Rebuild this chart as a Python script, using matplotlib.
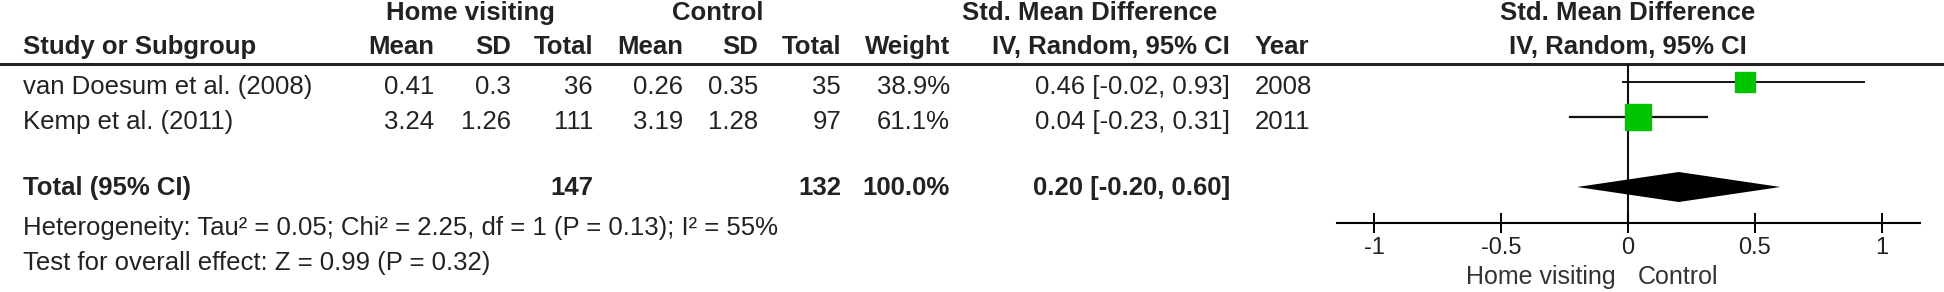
import matplotlib
matplotlib.use("Agg")
import matplotlib.pyplot as plt

plt.rcParams['font.family'] = ['Liberation Sans', 'DejaVu Sans']
plt.rcParams['axes.unicode_minus'] = False

# study data
studies = ["van Doesum et al. (2008)", "Kemp et al. (2011)"]
hv_mean = [0.41, 3.24]
hv_sd = [0.3, 1.26]
hv_n = [36, 111]
c_mean = [0.26, 3.19]
c_sd = [0.35, 1.28]
c_n = [35, 97]
weight = [38.9, 61.1]
smd = [0.46, 0.04]
ci_lo = [-0.02, -0.23]
ci_hi = [0.93, 0.31]
years = [2008, 2011]

# pooled
tot_hv_n = 147
tot_c_n = 132
tot_weight = 100.0
tot_smd = 0.20
tot_lo = -0.20
tot_hi = 0.60
het_text = "Heterogeneity: Tau\u00b2 = 0.05; Chi\u00b2 = 2.25, df = 1 (P = 0.13); I\u00b2 = 55%"
test_text = "Test for overall effect: Z = 0.99 (P = 0.32)"

xticks = [-1, -0.5, 0, 0.5, 1]
xtick_labels = ["-1", "-0.5", "0", "0.5", "1"]

W, H = 1944, 292
fig = plt.figure(figsize=(W / 100, H / 100), dpi=100)
bg = fig.add_axes([0, 0, 1, 1])
bg.set_xlim(0, W)
bg.set_ylim(H, 0)
bg.axis('off')

tc = '#222222'
fs = 18.5

# header rows
y_h1, y_h2, y_line = 13, 47, 64
row_y = [87, 122]
y_tot, y_het, y_test = 188, 228, 263

bg.text(470, y_h1, "Home visiting", ha='center', va='center', fontsize=fs, weight='bold', color=tc)
bg.text(718, y_h1, "Control", ha='center', va='center', fontsize=fs, weight='bold', color=tc)
bg.text(1090, y_h1, "Std. Mean Difference", ha='center', va='center', fontsize=fs, weight='bold', color=tc)
bg.text(1628, y_h1, "Std. Mean Difference", ha='center', va='center', fontsize=fs, weight='bold', color=tc)

cols = [(434, "Mean"), (511, "SD"), (593, "Total"), (683, "Mean"), (758, "SD"),
        (841, "Total"), (950, "Weight"), (1230, "IV, Random, 95% CI")]
bg.text(23, y_h2, "Study or Subgroup", ha='left', va='center', fontsize=fs, weight='bold', color=tc)
for x, lab in cols:
    bg.text(x, y_h2, lab, ha='right', va='center', fontsize=fs, weight='bold', color=tc)
bg.text(1255, y_h2, "Year", ha='left', va='center', fontsize=fs, weight='bold', color=tc)
bg.text(1628, y_h2, "IV, Random, 95% CI", ha='center', va='center', fontsize=fs, weight='bold', color=tc)

bg.plot([0, W], [y_line, y_line], color='#222222', lw=2.2)

# study rows
for i, name in enumerate(studies):
    y = row_y[i]
    bg.text(23, y, name, ha='left', va='center', fontsize=fs, color=tc)
    vals = [str(hv_mean[i]), str(hv_sd[i]), str(hv_n[i]), str(c_mean[i]), str(c_sd[i]),
            str(c_n[i]), f"{weight[i]:.1f}%",
            f"{smd[i]:.2f} [{ci_lo[i]:.2f}, {ci_hi[i]:.2f}]"]
    for (x, _), v in zip(cols, vals):
        bg.text(x, y, v, ha='right', va='center', fontsize=fs, color=tc)
    bg.text(1255, y, str(years[i]), ha='left', va='center', fontsize=fs, color=tc)

# total row
bg.text(23, y_tot, "Total (95% CI)", ha='left', va='center', fontsize=fs, weight='bold', color=tc)
bg.text(593, y_tot, str(tot_hv_n), ha='right', va='center', fontsize=fs, weight='bold', color=tc)
bg.text(841, y_tot, str(tot_c_n), ha='right', va='center', fontsize=fs, weight='bold', color=tc)
bg.text(950, y_tot, f"{tot_weight:.1f}%", ha='right', va='center', fontsize=fs, weight='bold', color=tc)
bg.text(1230, y_tot, f"{tot_smd:.2f} [{tot_lo:.2f}, {tot_hi:.2f}]", ha='right', va='center',
        fontsize=fs, weight='bold', color=tc)
bg.text(23, y_het, het_text, ha='left', va='center', fontsize=fs, color=tc)
bg.text(23, y_test, test_text, ha='left', va='center', fontsize=fs, color=tc)

# forest panel
ax_l, ax_r, ax_b = 1337, 1920, 223
fx = fig.add_axes([ax_l / W, (H - ax_b) / H, (ax_r - ax_l) / W, (ax_b - y_line) / H])
fx.set_xlim(-1.146, 1.150)
fx.set_ylim(ax_b, y_line)
fx.patch.set_alpha(0)
for s in ['top', 'left', 'right']:
    fx.spines[s].set_visible(False)
fx.spines['bottom'].set_linewidth(1.5)
fx.set_yticks([])
fx.set_xticks(xticks)
fx.set_xticklabels(xtick_labels)
fx.tick_params(axis='x', direction='inout', length=14, width=1.4, pad=3,
               labelsize=17, labelcolor=tc)

fx.axvline(0, color='#111111', lw=1.5, zorder=1)

mark_y = [82, 117]
for i in range(len(studies)):
    fx.plot([ci_lo[i], ci_hi[i]], [mark_y[i], mark_y[i]], color='#111111',
            lw=1.0 + 0.01 * weight[i], zorder=2)
    side_px = 3.33 * weight[i] ** 0.5
    fx.plot(smd[i], mark_y[i], marker='s', ms=side_px * 0.72, color='#00c400',
            mec='#00c400', zorder=3)

fx.fill([tot_lo, tot_smd, tot_hi, tot_smd], [y_tot - 1, y_tot - 16, y_tot - 1, y_tot + 14],
        color='black', lw=0, zorder=3)

bg.text(1616, 277, "Home visiting", ha='right', va='center', fontsize=18, color='#333333')
bg.text(1638, 277, "Control", ha='left', va='center', fontsize=18, color='#333333')

fig.savefig("out.png", dpi=100)
